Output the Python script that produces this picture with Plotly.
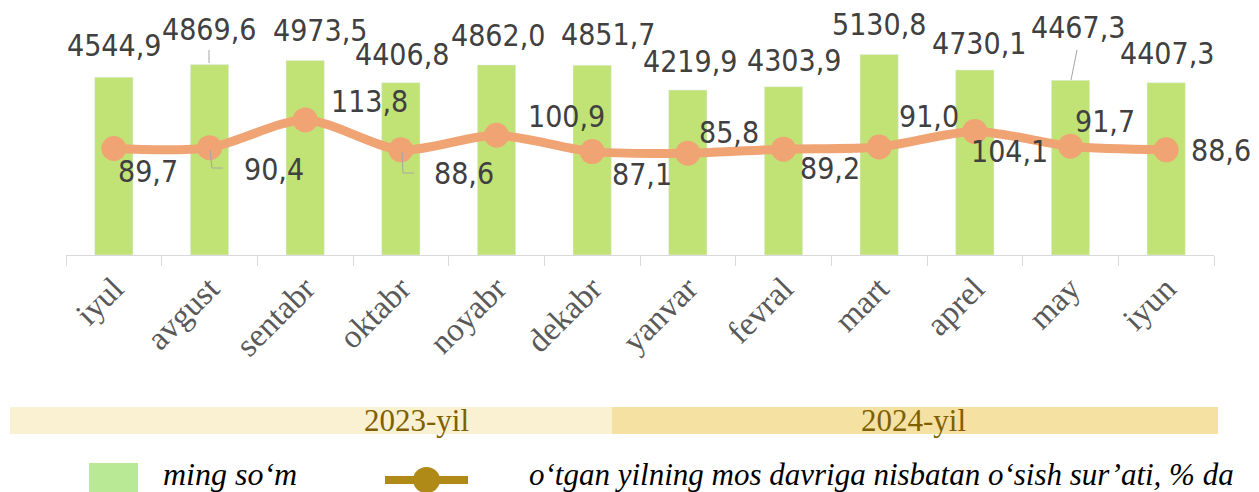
import plotly.graph_objects as go

# Ma'lumotlar
months = ["iyul", "avgust", "sentabr", "oktabr", "noyabr", "dekabr",
          "yanvar", "fevral", "mart", "aprel", "may", "iyun"]
wage = [4544.9, 4869.6, 4973.5, 4406.8, 4862.0, 4851.7,
        4219.9, 4303.9, 5130.8, 4730.1, 4467.3, 4407.3]
growth = [89.7, 90.4, 113.8, 88.6, 100.9, 87.1,
          85.8, 89.2, 91.0, 104.1, 91.7, 88.6]
years = ["2023-yil", "2024-yil"]
series_names = ["ming so‘m",
                "o‘tgan yilning mos davriga nisbatan o‘sish sur’ati, % da"]

# label offsets in px (dx, dy up)
bar_shift = [(0, 32), (-1, 35), (15, 30), (1, 28), (1, 29), (16, 31),
             (2, 29), (10, 26), (0, 30), (4, 27), (7, 53), (1, 29)]
line_shift = [(34, -23), (64, -22), (64, 18), (63, -24), (70, 19), (50, -23),
              (41, 21), (46, -19), (50, 30), (35, -20), (34, 25), (55, -1)]

# sahifa body 8px margin qo'shadi, shuning uchun figura 8px kichik
W, H = 1251, 484
L, R, T, B = 58, 45, 0, 237
pw, ph = W - L - R, H - T - B
OFF = 8


def px(x):
    # rasm koordinatasidan paper ga
    return (x - OFF - L) / pw


def py(y):
    return (H - B - (y - OFF)) / ph


def fmt(v):
    return f"{v:.1f}".replace(".", ",")


label_font = dict(family="DejaVu Sans Condensed, DejaVu Sans", size=30, color="#404040")
serif = "Liberation Serif, Times New Roman, serif"

fig = go.Figure()
fig.add_trace(go.Bar(
    x=months, y=wage, name=series_names[0],
    marker_color="#C1E375", width=0.4,
))
fig.add_trace(go.Scatter(
    x=months, y=growth, name=series_names[1], yaxis="y2",
    mode="lines+markers",
    line=dict(color="#F0A474", width=9, shape="spline", smoothing=0.8),
    marker=dict(color="#F0A474", size=25),
))

ann = []
for i, m in enumerate(months):
    dx, dy = bar_shift[i]
    ann.append(dict(x=m, y=wage[i], xref="x", yref="y", text=fmt(wage[i]),
                    showarrow=False, xshift=dx, yshift=dy, font=label_font))
    dx, dy = line_shift[i]
    ann.append(dict(x=m, y=growth[i], xref="x", yref="y2", text=fmt(growth[i]),
                    showarrow=False, xshift=dx, yshift=dy, font=label_font))

# yil yozuvlari
for txt, cx in zip(years, [416, 913]):
    ann.append(dict(x=px(cx), y=py(420), xref="paper", yref="paper", text=txt,
                    xanchor="center", yanchor="middle", showarrow=False,
                    font=dict(family=serif, size=31, color="#7F6000")))

# legend matnlari
for txt, lx, fs in zip(series_names, [161, 527], [32, 31]):
    ann.append(dict(x=px(lx), y=py(474), xref="paper", yref="paper", text=txt,
                    xanchor="left", yanchor="middle", showarrow=False,
                    font=dict(family=serif, size=fs, color="#000000", style="italic")))

shapes = [
    dict(type="rect", xref="paper", yref="paper", x0=px(10), x1=px(612),
         y0=py(434), y1=py(407), fillcolor="#FAF0D2", line_width=0, layer="below"),
    dict(type="rect", xref="paper", yref="paper", x0=px(612), x1=px(1218),
         y0=py(434), y1=py(407), fillcolor="#F5E2A2", line_width=0, layer="below"),
    dict(type="rect", xref="paper", yref="paper", x0=px(89), x1=px(138),
         y0=py(496), y1=py(463), fillcolor="#B9E995", line_width=0),
    dict(type="line", xref="paper", yref="paper", x0=px(385), x1=px(468),
         y0=py(480), y1=py(480), line=dict(color="#AF8A16", width=8)),
    dict(type="circle", xref="paper", yref="paper", x0=px(413), x1=px(440),
         y0=py(493), y1=py(467), fillcolor="#AF8A16", line_width=0),
]
# leader lines
for pts in [[(209, 50), (209, 63)],
            [(210, 150), (212, 168), (223, 168)],
            [(402, 152), (403, 173), (414, 173)],
            [(1077, 50), (1071, 80)]]:
    path = "M " + " L ".join(f"{px(a)},{py(b)}" for a, b in pts)
    shapes.append(dict(type="path", xref="paper", yref="paper", path=path,
                       line=dict(color="#A6A6A6", width=1)))

fig.update_layout(
    width=W, height=H,
    margin=dict(l=L, r=R, t=T, b=B, autoexpand=False),
    paper_bgcolor="white", plot_bgcolor="white",
    showlegend=False,
    bargap=0.6,
    annotations=ann,
    shapes=shapes,
    xaxis=dict(range=[-0.5, 11.5], showline=True, linecolor="#D9D9D9", linewidth=1,
               ticks="outside", tickson="boundaries", ticklen=10, tickcolor="#D9D9D9",
               tickangle=-45, showgrid=False,
               tickfont=dict(family=serif, size=33, color="#595959")),
    yaxis=dict(range=[0, 6317], visible=False, showgrid=False),
    yaxis2=dict(range=[0, 208.1], overlaying="y", visible=False, showgrid=False),
)

fig.write_html("out.html")
